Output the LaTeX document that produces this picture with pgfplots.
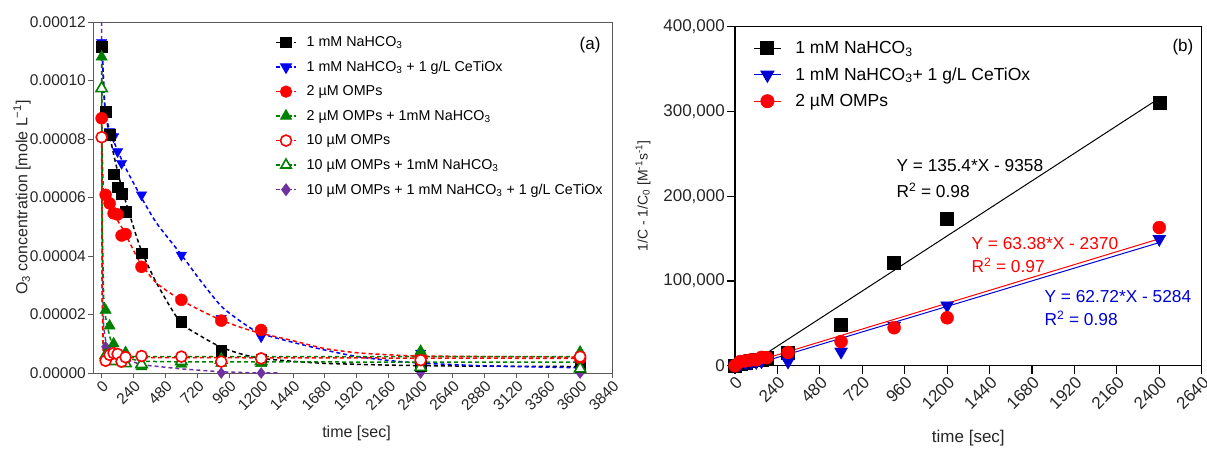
\documentclass[border=0pt]{standalone}
\usepackage{pgfplots}
\pgfplotsset{compat=1.18}
\usepackage{fontspec}
\setmainfont{Liberation Sans}
\definecolor{cblue}{RGB}{0,0,255}
\definecolor{cdblue}{RGB}{0,0,210}
\definecolor{cred}{RGB}{255,0,0}
\definecolor{cgreen}{RGB}{0,128,0}
\definecolor{cpurple}{RGB}{112,48,160}
\definecolor{frame}{RGB}{90,90,90}
\begin{document}
\begin{tikzpicture}
\useasboundingbox (0,0) rectangle (1207bp,449bp);
% ---------------- panel (a) ----------------
\begin{axis}[
  at={(93bp,76bp)}, anchor=south west,
  scale only axis, width=519bp, height=351bp,
  xmin=-65, xmax=3840, ymin=0, ymax=0.00012,
  clip=false,
  axis line style={draw=frame, line width=0.9bp},
  tick style={draw=frame, line width=0.9bp},
  tick align=outside, tick pos=left, major tick length=5bp,
  xtick={0,240,480,720,960,1200,1440,1680,1920,2160,2400,2640,2880,3120,3360,3600,3840},
  xticklabels={0,240,480,720,960,1200,1440,1680,1920,2160,2400,2640,2880,3120,3360,3600,3840},
  ytick={0,0.00002,0.00004,0.00006,0.00008,0.0001,0.00012},
  yticklabels={0.00000,0.00002,0.00004,0.00006,0.00008,0.00010,0.00012},
  scaled y ticks=false, scaled x ticks=false,
  /pgf/number format/assume math mode=true,
  tick label style={font=\fontsize{15.5bp}{17bp}\selectfont, text=black!85},
  xticklabel style={rotate=45, anchor=north east, inner sep=1bp},
  yticklabel style={inner sep=2bp},
  every axis x label/.style={at={(rel axis cs:0.5,0)}, yshift=-60bp, xshift=4bp, anchor=center},
  every axis y label/.style={at={(rel axis cs:0,0.5)}, xshift=-71bp, rotate=90, anchor=center},
  xlabel={time [sec]}, ylabel={O\textsubscript{3} concentration [mole L\textsuperscript{−1}]},
  label style={font=\fontsize{16bp}{18bp}\selectfont, text=black!85},
  legend style={at={(rel axis cs:0.351,0.962)}, anchor=north west, draw=none, fill=none,
    font=\fontsize{14.3bp}{16bp}\selectfont, inner sep=0pt, row sep=11bp, column sep=9bp,
    nodes={inner sep=1bp}},
  legend cell align=left,
  legend image code/.code={\draw[mark repeat=2,mark phase=2,#1] plot coordinates {(0bp,0bp) (10bp,0bp) (20bp,0bp)};},
]
% legend images
\addlegendimage{black, line width=1.3bp, dash pattern=on 4bp off 2bp, mark=square*, mark size=5bp, mark options={solid}}
\addlegendentry{1 mM NaHCO\textsubscript{3}}
\addlegendimage{cblue, line width=1.3bp, dash pattern=on 4bp off 2bp, mark=triangle*, mark size=6bp, mark options={solid, rotate=180}}
\addlegendentry{1 mM NaHCO\textsubscript{3} + 1 g/L CeTiOx}
\addlegendimage{cred, line width=1.3bp, dash pattern=on 4bp off 2bp, mark=*, mark size=5.5bp, mark options={solid}}
\addlegendentry{2 µM OMPs}
\addlegendimage{cgreen, line width=1.3bp, dash pattern=on 4bp off 2bp, mark=triangle*, mark size=6bp, mark options={solid}}
\addlegendentry{2 µM OMPs + 1mM NaHCO\textsubscript{3}}
\addlegendimage{cred, line width=1.3bp, dash pattern=on 4bp off 2bp, mark=*, mark size=5.5bp, mark options={solid, fill=white, line width=1.6bp}}
\addlegendentry{10 µM OMPs}
\addlegendimage{cgreen, line width=1.3bp, dash pattern=on 4bp off 2bp, mark=triangle*, mark size=6bp, mark options={solid, fill=white, line width=1.6bp}}
\addlegendentry{10 µM OMPs + 1mM NaHCO\textsubscript{3}}
\addlegendimage{cpurple, line width=1.3bp, dash pattern=on 4bp off 2bp, mark=diamond*, mark size=5.5bp, mark options={solid}}
\addlegendentry{10 µM OMPs + 1 mM NaHCO\textsubscript{3} + 1 g/L CeTiOx}
% fitted curves
\addplot[forget plot, cpurple, line width=1.5bp, dash pattern=on 4bp off 3bp] coordinates {
(0,1.2e-4)(5,4e-5)(15,1.6e-5)(37,9e-6)(80,7e-6)(150,5.2e-6)(300,2.8e-6)(600,1.4e-6)(900,4e-7)(1100,1e-7)(1330,0)};
\addplot[forget plot, black, line width=1.5bp, dash pattern=on 4bp off 3bp, smooth, tension=0.4] coordinates {
(0,1.115e-4)(8,1.06e-4)(25,9.0e-5)(57,8.2e-5)(100,7.28e-5)(163,6.14e-5)(288,4.32e-5)(414,3.07e-5)(590,1.75e-5)(750,1.25e-5)(900,8.8e-6)(1050,6.5e-6)(1200,5.0e-6)(1440,4.0e-6)(1680,3.3e-6)(2160,2.7e-6)(2640,2.4e-6)(3600,2.2e-6)};
\addplot[forget plot, cblue, line width=1.5bp, dash pattern=on 4bp off 3bp, smooth, tension=0.4] coordinates {
(0,1.14e-4)(25,9.1e-5)(63,8.25e-5)(163,7.17e-5)(288,6.09e-5)(414,5.12e-5)(602,4.03e-5)(740,3.18e-5)(903,2.27e-5)(1066,1.70e-5)(1192,1.36e-5)(1420,1.07e-5)(1674,7.9e-6)(1925,5.6e-6)(2176,4.2e-6)(2427,3.3e-6)(2929,2.4e-6)(3600,1.8e-6)};
\addplot[forget plot, cred, line width=1.5bp, dash pattern=on 4bp off 3bp, smooth, tension=0.4] coordinates {
(0,8.71e-5)(12,6.37e-5)(38,5.91e-5)(88,5.46e-5)(163,4.89e-5)(226,4.32e-5)(293,3.75e-5)(414,3.07e-5)(595,2.50e-5)(740,2.15e-5)(898,1.81e-5)(1066,1.53e-5)(1196,1.36e-5)(1417,1.13e-5)(1674,8.4e-6)(1925,6.9e-6)(2176,6.2e-6)(2427,5.8e-6)(3600,5.4e-6)};
\addplot[forget plot, cgreen, line width=1.5bp, dash pattern=on 4bp off 3bp] coordinates {
(0,1.08e-4)(5,5e-5)(15,2.6e-5)(30,1.9e-5)(60,1.25e-5)(90,8.5e-6)(150,5.5e-6)(300,4.0e-6)(600,3.8e-6)(3600,3.7e-6)};
\addplot[forget plot, cgreen, line width=1.5bp, dash pattern=on 4bp off 3bp] coordinates {
(0,9.73e-5)(4,3e-5)(12,9e-6)(30,6e-6)(60,5.6e-6)(3600,5.6e-6)};
\addplot[forget plot, cred, line width=1.5bp, dash pattern=on 4bp off 3bp] coordinates {
(0,8.06e-5)(4,2.5e-5)(12,7e-6)(30,5.3e-6)(3600,5.0e-6)};
% data points
\addplot[forget plot, only marks, cpurple, mark=diamond*, mark size=5.5bp] coordinates {
(0,1.12e-4)(30,9e-6)(60,7.5e-6)(900,0)(1200,0)(2400,0)(3600,0)};
\addplot[forget plot, only marks, cblue, mark=triangle*, mark size=6bp, mark options={rotate=180}] coordinates {
(0,1.13e-4)(30,9.0e-5)(60,8.25e-5)(90,8.08e-5)(120,7.57e-5)(150,7.17e-5)(300,6.09e-5)(600,4.03e-5)(900,1.87e-5)(1200,1.24e-5)(2400,6.8e-6)(3600,3.0e-6)};
\addplot[forget plot, only marks, black, mark=square*, mark size=5.3bp] coordinates {
(0,1.115e-4)(30,8.93e-5)(60,8.14e-5)(90,6.80e-5)(120,6.35e-5)(150,6.14e-5)(180,5.52e-5)(300,4.10e-5)(600,1.75e-5)(900,7.6e-6)(1200,4.5e-6)(2400,2.4e-6)(3600,2.2e-6)};
\addplot[forget plot, only marks, cred, mark=*, mark size=6bp] coordinates {
(0,8.71e-5)(30,6.09e-5)(60,5.80e-5)(90,5.46e-5)(120,5.42e-5)(150,4.70e-5)(180,4.75e-5)(300,3.63e-5)(600,2.50e-5)(900,1.79e-5)(1200,1.47e-5)(2400,5.6e-6)(3600,5.0e-6)};
\addplot[forget plot, only marks, cgreen, mark=triangle*, mark size=6.5bp] coordinates {
(0,1.081e-4)(30,2.15e-5)(60,1.61e-5)(90,1.0e-5)(180,7.0e-6)(300,2.2e-6)(600,3.0e-6)(900,3.4e-6)(1200,3.3e-6)(2400,7.5e-6)(3600,7.2e-6)};
\addplot[forget plot, only marks, cgreen, mark=triangle*, mark size=6.5bp, mark options={fill=white, line width=1.6bp}] coordinates {
(0,9.73e-5)(30,6e-6)(60,4.5e-6)(90,4e-6)(180,3.3e-6)(300,3.0e-6)(600,4.0e-6)(900,4.5e-6)(1200,4.0e-6)(2400,2.0e-6)(3600,1.5e-6)};
\addplot[forget plot, only marks, cred, mark=*, mark size=5.5bp, mark options={fill=white, line width=1.6bp}] coordinates {
(0,8.06e-5)(30,4.2e-6)(60,6.2e-6)(90,6.8e-6)(120,6.5e-6)(150,3.9e-6)(180,5.4e-6)(300,5.8e-6)(600,5.6e-6)(900,3.9e-6)(1200,5.0e-6)(2400,4.4e-6)(3600,5.6e-6)};
\node[font=\fontsize{17bp}{19bp}\selectfont] at (axis cs:3675,1.121e-4) {(a)};
\end{axis}
% ---------------- panel (b) ----------------
\begin{axis}[
  at={(735bp,83.3bp)}, anchor=south west,
  scale only axis, width=466.7bp, height=339bp,
  xmin=0, xmax=2640, ymin=0, ymax=400000,
  clip=false,
  axis line style={draw=black, line width=1.2bp},
  tick style={draw=black, line width=1.2bp},
  tick align=outside, tick pos=left, major tick length=8bp,
  xtick={0,240,480,720,960,1200,1440,1680,1920,2160,2400,2640},
  xticklabels={0,240,480,720,960,1200,1440,1680,1920,2160,2400,2640},
  ytick={0,100000,200000,300000,400000},
  yticklabels={0,{100,000},{200,000},{300,000},{400,000}},
  scaled y ticks=false, scaled x ticks=false,
  /pgf/number format/assume math mode=true,
  tick label style={font=\fontsize{17bp}{19bp}\selectfont, text=black!85},
  xticklabel style={rotate=45, anchor=north east, inner sep=1bp},
  yticklabel style={inner sep=2bp},
  every axis x label/.style={at={(rel axis cs:0.5,0)}, yshift=-72bp, anchor=center},
  every axis y label/.style={at={(rel axis cs:0,0.5)}, xshift=-92bp, rotate=90, anchor=center},
  xlabel={time [sec]}, ylabel={1/C - 1/C\textsubscript{0} [M\textsuperscript{-1}s\textsuperscript{-1}]},
  xlabel style={font=\fontsize{17bp}{19bp}\selectfont, text=black!85},
  ylabel style={font=\fontsize{14bp}{16bp}\selectfont, text=black!85},
  legend style={at={(rel axis cs:0.039,0.96)}, anchor=north west, draw=none, fill=none,
    font=\fontsize{17.5bp}{19bp}\selectfont, inner sep=0pt, row sep=10.5bp, column sep=13bp,
    nodes={inner sep=1bp}},
  legend cell align=left,
  legend image code/.code={\draw[mark repeat=2,mark phase=2,#1] plot coordinates {(0bp,0bp) (13.5bp,0bp) (27bp,0bp)};},
]
\addlegendimage{black, line width=1bp, mark=square*, mark size=6.5bp}
\addlegendentry{1 mM NaHCO\textsubscript{3}}
\addlegendimage{cdblue, line width=1bp, mark=triangle*, mark size=7.5bp, mark options={rotate=180}}
\addlegendentry{1 mM NaHCO\textsubscript{3}+ 1 g/L CeTiOx}
\addlegendimage{cred, line width=1bp, mark=*, mark size=6.5bp}
\addlegendentry{2 µM OMPs}
% regression lines
\addplot[forget plot, black, line width=1bp] coordinates {(170,13660)(2400,315602)};
\addplot[forget plot, cred, line width=1bp] coordinates {(37,-25)(2400,149742)};
\addplot[forget plot, cdblue, line width=1bp] coordinates {(84,-16)(2400,145244)};
% data
\addplot[forget plot, only marks, black, mark=square*, mark size=6.5bp] coordinates {
(0,0)(30,2229)(60,3316)(90,5737)(120,6779)(150,7318)(180,9147)(300,15421)(600,48174)(900,121000)(1200,173100)(2400,310000)};
\addplot[forget plot, only marks, cdblue, mark=triangle*, mark size=7.5bp, mark options={rotate=180}] coordinates {
(0,0)(30,2261)(60,3271)(90,3526)(120,4360)(150,5097)(300,4800)(600,16500)(900,47000)(1200,71000)(2400,149500)};
\addplot[forget plot, only marks, cred, mark=*, mark size=6.5bp] coordinates {
(0,0)(30,4939)(60,5760)(90,6834)(120,6969)(150,9796)(180,9572)(300,15600)(600,28400)(900,44800)(1200,56500)(2400,163000)};
\node[anchor=west, font=\fontsize{17.3bp}{19bp}\selectfont] at (axis cs:894,236000) {Y = 135.4*X - 9358};
\node[anchor=west, font=\fontsize{17.3bp}{19bp}\selectfont] at (axis cs:894,207300) {R\textsuperscript{2} = 0.98};
\node[anchor=west, text=cred, font=\fontsize{17.3bp}{19bp}\selectfont] at (axis cs:1318,144400) {Y = 63.38*X - 2370};
\node[anchor=west, text=cred, font=\fontsize{17.3bp}{19bp}\selectfont] at (axis cs:1318,118800) {R\textsuperscript{2} = 0.97};
\node[anchor=west, text=cdblue, font=\fontsize{17.3bp}{19bp}\selectfont] at (axis cs:1731,81400) {Y = 62.72*X - 5284};
\node[anchor=west, text=cdblue, font=\fontsize{17.3bp}{19bp}\selectfont] at (axis cs:1731,56300) {R\textsuperscript{2} = 0.98};
\node[font=\fontsize{17bp}{19bp}\selectfont] at (axis cs:2534,376000) {(b)};
\end{axis}
\end{tikzpicture}
\end{document}
